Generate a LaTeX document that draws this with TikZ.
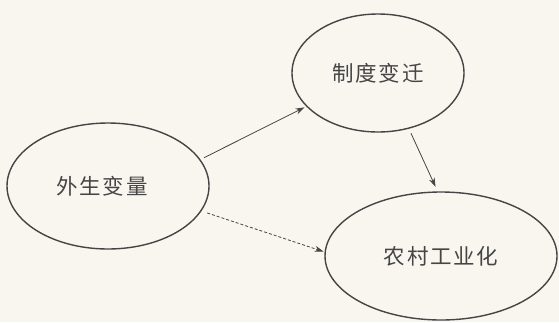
\documentclass[tikz,border=0pt]{standalone}
\usepackage{fontspec}
\newfontfamily\cjk[LetterSpace=8]{Noto Sans CJK SC}
\usetikzlibrary{shapes.geometric,arrows.meta}
\definecolor{ink}{HTML}{454545}
\definecolor{paper}{HTML}{F8F6EF}
\begin{document}
\begin{tikzpicture}[x=1pt,y=-1pt,
  oval/.style={ellipse,draw=ink,line width=1.4pt,inner sep=0pt,text=ink,font=\cjk\fontsize{21.5}{22}\selectfont},
  conn/.style={draw=ink,line width=0.8pt,-{Stealth[length=9pt,width=6pt]}}]
\fill[paper] (0,0) rectangle (559,322);
\useasboundingbox (0,0) rectangle (559,322);
\node[oval,minimum width=202pt,minimum height=126pt] (ext) at (108,186) {\raisebox{-5pt}{\hspace*{-12pt}外生变量}};
\node[oval,minimum width=172pt,minimum height=118pt] (inst) at (378,73) {制度变迁};
\node[oval,minimum width=232pt,minimum height=128pt] (rural) at (441,256) {\raisebox{-7pt}{农村工业化}};
\draw[conn,shorten <=4pt,shorten >=2pt] (ext.16) -- (inst.205);
\draw[conn,shorten <=5pt,shorten >=5pt] (inst.299) -- (rural.93);
\draw[conn,dashed,dash pattern=on 3pt off 2pt,shorten <=6pt,shorten >=1pt] (ext.345) -- (rural.178);
\end{tikzpicture}
\end{document}
